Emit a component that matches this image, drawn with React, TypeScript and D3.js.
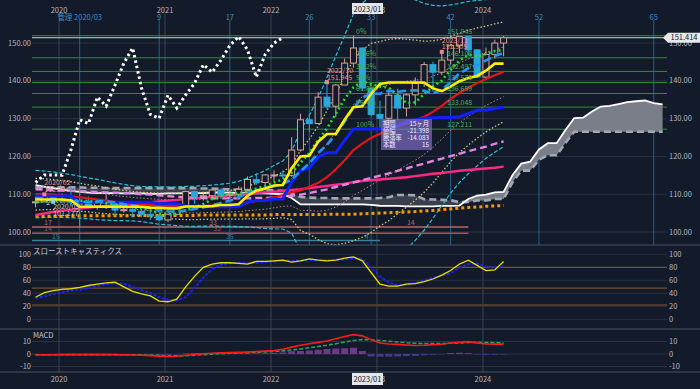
import React from 'react';
import * as d3 from 'd3';

// month index: 0 = 2020/01, first bar is 2019/10
const FIRST = -3;
const LAG = 25;
const YEAR_OFFSET = -0.34;
const CYCLE_BASE = 2;

const opens = [
  107.9, 108.0, 109.5, 108.7, 108.4, 107.9, 107.5, 106.9, 107.8, 107.9,
  105.8, 105.9, 105.5, 104.7, 104.3, 103.2, 104.7, 106.6, 110.7, 109.3,
  109.6, 111.1, 109.7, 110.0, 111.3, 113.9, 113.1, 115.1, 115.1, 115.0,
  121.7, 129.7, 128.7, 135.7, 133.3, 138.9, 144.7, 148.7, 138.1, 131.1,
  130.1, 136.2, 132.8, 136.3, 139.3, 144.3, 142.3, 145.5, 149.4, 151.7,
  148.2, 141.0, 147.0, 150.0,
];
const highs = [
  109.3, 109.7, 109.7, 110.3, 112.23, 111.7, 109.4, 108.1, 109.9, 107.9,
  107.0, 106.6, 106.1, 105.7, 104.8, 104.9, 106.7, 110.9, 110.9, 110.2,
  111.1, 111.7, 110.8, 112.1, 114.7, 115.5, 115.2, 116.3, 116.3, 125.1,
  131.3, 131.3, 137.0, 139.4, 139.1, 145.9, 151.945, 148.8, 138.2, 134.8,
  137.1, 137.9, 136.6, 140.9, 145.0, 145.1, 147.4, 149.7, 151.7, 151.905,
  148.3, 148.8, 150.9, 151.9,
];
const lows = [
  106.5, 107.9, 108.4, 107.6, 107.0, 101.18, 106.4, 105.9, 106.1, 104.2,
  105.1, 104.0, 104.0, 103.2, 102.9, 102.6, 104.4, 106.4, 107.5, 108.3,
  108.6, 109.1, 108.7, 109.1, 110.8, 112.5, 112.5, 113.5, 114.2, 114.6,
  121.3, 126.4, 128.6, 132.5, 130.4, 138.9, 143.5, 137.5, 130.6, 127.21,
  128.1, 129.6, 130.6, 133.5, 138.4, 137.2, 141.5, 144.4, 147.3, 146.7,
  140.9, 140.8, 145.9, 146.5,
];
const closes = [
  108.0, 109.5, 108.7, 108.4, 107.9, 107.5, 106.9, 107.8, 107.9, 105.8,
  105.9, 105.5, 104.7, 104.3, 103.2, 104.7, 106.6, 110.7, 109.3, 109.6,
  111.1, 109.7, 110.0, 111.3, 113.9, 113.1, 115.1, 115.1, 115.0, 121.7,
  129.7, 128.7, 135.7, 133.3, 138.9, 144.7, 148.7, 138.1, 131.1, 130.1,
  136.2, 132.8, 136.3, 139.3, 144.3, 142.3, 145.5, 149.4, 151.7, 148.2,
  141.0, 147.0, 150.0, 151.414,
];

// overlays (one value per month from 2019/10)
const tenkan = [
  108.6, 108.6, 108.6, 108.6, 108.4, 106.7, 106.7, 106.7, 106.7, 106.7,
  106.7, 106.7, 106.7, 106.45, 106.4, 106.25, 106.25, 106.75, 106.75, 106.75,
  106.85, 107.15, 107.15, 107.35, 109.55, 110.95, 111.5, 112.3, 112.45, 116.9,
  120.0, 120.2, 123.9, 125.95, 125.95, 129.7, 133.05, 133.25, 136.6, 139.15,
  139.55, 139.55, 139.55, 139.55, 139.55, 138.0, 137.3, 138.45, 139.9, 140.75,
  141.25, 142.7, 144.55, 144.55,
];
const kijun = [
  109.5, 109.5, 109.5, 109.5, 109.5, 107.9, 107.9, 107.9, 107.9, 107.9,
  107.9, 107.9, 107.9, 107.9, 107.5, 107.5, 107.5, 106.8, 106.8, 106.8,
  106.7, 106.7, 106.7, 106.7, 107.95, 108.35, 108.35, 108.75, 108.75, 113.15,
  116.25, 116.95, 119.8, 121.0, 121.0, 124.25, 127.25, 127.25, 127.25, 127.25,
  127.25, 128.15, 129.15, 129.7, 130.1, 130.25, 130.3, 130.3, 130.5, 131.35,
  132.2, 132.2, 132.7, 133.05,
];
const ma6 = [
  107.9, 108.1, 108.2, 108.2, 108.4, 108.3, 108.2, 107.9, 107.7, 107.3,
  107.0, 106.6, 106.3, 105.7, 104.9, 104.7, 104.8, 105.7, 106.5, 107.4,
  108.7, 109.5, 110.1, 110.2, 110.9, 111.5, 112.2, 113.1, 113.9, 115.7,
  118.3, 120.9, 124.3, 127.4, 131.3, 135.2, 138.3, 139.9, 139.1, 138.6,
  138.2, 136.2, 134.1, 134.3, 136.5, 138.5, 140.1, 142.9, 145.4, 146.9,
  146.4, 147.1, 147.9, 148.2,
];
const ma9 = [
  109.0, 108.8, 108.5, 108.2, 108.2, 108.1, 107.9, 108.1, 108.1, 107.8,
  107.4, 107.1, 106.7, 106.3, 105.8, 105.5, 105.4, 105.7, 106.1, 106.5,
  107.1, 107.7, 108.3, 109.2, 110.3, 111.0, 111.5, 112.1, 112.7, 113.9,
  116.1, 118.2, 120.9, 123.1, 125.9, 129.2, 132.9, 135.5, 136.6, 136.6,
  137.4, 137.1, 137.4, 137.5, 137.4, 136.7, 137.6, 139.6, 142.0, 143.3,
  144.2, 145.4, 146.6, 147.4,
];
const bbMid = [
  110.0, 110.0, 109.9, 109.7, 109.5, 109.2, 108.9, 108.6, 108.3, 108.0,
  107.8, 107.6, 107.4, 107.2, 107.0, 106.9, 106.8, 106.8, 106.8, 106.9,
  107.0, 107.1, 107.2, 107.4, 107.8, 108.2, 108.6, 109.2, 109.8, 110.5,
  111.0, 112.0, 113.0, 114.5, 116.6, 119.0, 121.7, 123.4, 124.9, 126.0,
  127.0, 128.0, 128.8, 129.6, 130.5, 131.8, 133.4, 135.2, 136.8, 138.2,
  139.4, 140.5, 141.5, 142.4,
];
const bbSd = [
  2.1, 2.05, 2.0, 1.95, 1.9, 1.85, 1.8, 1.78, 1.72, 1.66,
  1.6, 1.55, 1.55, 1.6, 1.65, 1.67, 1.7, 1.75, 1.77, 1.78,
  1.8, 1.85, 1.9, 2.0, 2.15, 2.35, 2.55, 2.8, 3.0, 3.6,
  5.3, 6.3, 7.5, 8.8, 10.0, 11.0, 12.0, 12.4, 12.5, 12.2,
  12.0, 11.6, 11.1, 10.6, 10.0, 9.4, 8.8, 8.3, 7.9, 7.6,
  7.3, 7.0, 6.8, 6.6,
];
const maLong = [
  104.5, 104.9, 105.3, 105.6, 105.9, 106.2, 106.5, 106.7, 106.9, 107.1,
  107.3, 107.5, 107.7, 107.9, 108.1, 108.3, 108.5, 108.7, 108.9, 109.1,
  109.3, 109.5, 109.7, 109.9, 110.1, 110.3, 110.5, 110.7, 110.9, 111.1,
  111.3, 111.6, 111.9, 112.2, 112.5, 112.8, 113.2, 113.5, 113.7, 113.9,
  114.1, 114.3, 114.5, 114.8, 115.1, 115.4, 115.6, 115.9, 116.2, 116.4,
  116.6, 116.8, 117.0, 117.3,
];
const maMid = [
  111.3, 111.2, 111.1, 111.0, 110.9, 110.8, 110.7, 110.6, 110.5, 110.4,
  110.3, 110.2, 110.0, 109.9, 109.7, 109.5, 109.3, 109.2, 109.1, 109.0,
  108.9, 108.9, 108.9, 108.9, 108.9, 109.0, 109.0, 109.1, 109.3, 109.6,
  109.9, 110.3, 110.8, 111.3, 111.9, 112.5, 113.1, 113.7, 114.3, 114.9,
  115.5, 116.2, 116.8, 117.5, 118.1, 118.8, 119.4, 120.1, 120.7, 121.4,
  122.0, 122.6, 123.3, 124.0,
];
const maSlow = [
  104.2, 104.2, 104.2, 104.2, 104.3, 104.3, 104.3, 104.3, 104.3, 104.3,
  104.3, 104.3, 104.4, 104.4, 104.4, 104.4, 104.4, 104.4, 104.4, 104.5,
  104.5, 104.5, 104.5, 104.5, 104.5, 104.5, 104.5, 104.6, 104.6, 104.6,
  104.6, 104.6, 104.6, 104.7, 104.7, 104.7, 104.7, 104.8, 104.9, 105.0,
  105.1, 105.2, 105.3, 105.4, 105.6, 105.7, 105.9, 106.1, 106.3, 106.5,
  106.6, 106.8, 106.9, 107.0,
];
// cloud spans, 2019/10 .. 2025/09 (already shifted forward)
const spanA = [
  112.4, 112.0, 111.6, 111.2, 110.9, 110.6, 110.4, 110.3,
  110.3, 110.3, 110.2, 110.2, 110.2, 110.1, 110.1, 110.2, 110.2, 110.3,
  110.3, 110.3, 110.4, 110.4, 110.4, 110.3, 110.3, 110.2, 110.2, 110.1,
  110.0, 109.0, 107.3, 107.3, 107.3, 107.3, 107.3, 107.3, 107.3, 107.3,
  107.2, 106.95, 106.9, 106.9, 106.8, 106.8, 106.8, 106.8, 106.9, 106.9, 107.0,
  108.75, 109.65, 109.9, 110.5, 110.6, 115.0, 118.1, 118.6, 121.85, 123.5,
  123.5, 127.0, 130.15, 130.25, 131.9, 133.2, 133.4, 133.85, 134.35, 134.6,
  134.8, 134.1, 133.8,
];
const spanB = [
  111.6, 111.7, 111.8, 111.8, 111.8, 111.8, 111.7, 111.7, 111.6, 111.6,
  111.6, 111.6, 111.6, 111.6, 111.6, 111.6, 111.6, 111.6, 111.6, 111.5,
  111.5, 111.4, 111.3,
  111.2, 111.1, 111.1, 111.1, 111.0, 110.9,
  110.2,
  109.3, 109.1, 109.0, 109.0, 108.9, 108.9, 108.9, 108.9, 108.9, 109.0, 109.2,
  109.8, 109.8, 109.7,
  108.7, 108.6, 108.5, 108.4,
  107.9, 107.95, 108.35, 108.35, 108.75, 108.75, 113.15, 116.25, 116.25, 119.1,
  120.3, 120.3, 123.55,
  126.55, 126.55, 126.55, 126.55, 126.55, 126.55, 126.55, 126.55, 126.55, 126.55, 126.55,
];

const stochK = [
  34, 41, 44, 46, 47, 49, 52, 54, 56, 57,
  50, 43, 39, 36, 28, 27, 31, 50, 66, 80,
  85, 87, 87, 86, 85, 89, 89, 90, 91, 88,
  90, 93, 91, 90, 91, 94, 96, 90, 72, 54,
  51, 51, 54, 55, 58, 62, 68, 75, 85, 91,
  83, 75, 76, 89,
];
const stochD = [
  33, 35, 39, 42, 44, 45, 48, 51, 54, 55,
  55, 50, 45, 40, 34, 30, 29, 34, 48, 64,
  77, 84, 86, 87, 86, 87, 88, 89, 90, 90,
  90, 91, 91, 91, 91, 92, 94, 93, 80, 66,
  57, 52, 54, 56, 60, 64, 67, 71, 79, 85,
  86, 81, 80, 81,
];
const macdLine = [
  -0.8, -0.7, -0.6, -0.5, -0.4, -0.5, -0.5, -0.5, -0.5, -0.6,
  -0.7, -0.8, -1.0, -1.3, -1.7, -2.0, -1.8, -1.0, -0.3, 0.2,
  0.6, 0.9, 1.1, 1.3, 1.6, 1.9, 2.3, 2.8, 3.8, 5.5,
  7.0, 8.2, 9.3, 10.4, 12.2, 14.0, 15.5, 14.5, 11.5, 8.8,
  8.0, 7.7, 7.2, 6.8, 7.0, 7.4, 7.8, 8.8, 9.4, 9.9,
  8.9, 8.0, 7.9, 7.9,
];
const signalLine = [
  -0.6, -0.6, -0.6, -0.6, -0.5, -0.5, -0.5, -0.5, -0.5, -0.5,
  -0.6, -0.6, -0.7, -0.9, -1.1, -1.4, -1.5, -1.4, -1.0, -0.5,
  -0.1, 0.3, 0.6, 0.9, 1.1, 1.4, 1.7, 2.0, 2.5, 3.2,
  4.0, 5.0, 6.0, 7.0, 8.2, 9.5, 10.8, 11.5, 11.4, 10.8,
  10.2, 9.6, 9.0, 8.6, 8.4, 8.3, 8.4, 8.6, 8.9, 9.2,
  9.3, 9.2, 9.0, 8.8,
];
const histogram = [
  -0.2, -0.1, 0, 0.1, 0.1, 0, 0, 0, 0, -0.1,
  -0.1, -0.2, -0.3, -0.4, -0.6, -0.6, -0.3, 0.4, 0.7, 0.7,
  0.7, 0.6, 0.5, 0.4, 0.5, 0.5, 0.6, 0.8, 1.2, 2.2,
  2.4, 2.8, 3.4, 4.0, 4.4, 4.6, 5.0, 2.4, -2.0, -2.1,
  -2.1, -2.0, -1.7, -1.5, -1.0, -0.6, -0.3, 0.8, 1.0, 0.7,
  -0.4, -0.7, -0.6, -0.5,
];

const years = ['2020', '2021', '2022', '2023', '2024'];
const cycleCounts = [0, 9, 17, 26, 33, 42, 52, 65];
const fibPcts = ['0%', '23.6%', '38.2%', '50%', '61.8%', '76.4%', '100%'];
const fibPrices = [151.945, 146.108, 142.497, 139.578, 136.659, 133.048, 127.211];
const priceTicks = [100, 110, 120, 130, 140, 150];
const stochTicks = [0, 20, 40, 60, 80, 100];
const stochLevels = [22, 48, 80];
const macdTicks = [-10, 0, 10];
const lastPrice = 151.414;
const crossLabel = '2023/01';

const highMarks = [
  { bar: 1, date: '2020/02', price: '112.226' },
  { bar: 33, date: '2022/10', price: '151.945' },
  { bar: 46, date: '2023/11', price: '151.905' },
];
const lowMarks = [{ bar: 2, date: '2020/03', price: '101.177' }];

// time-cycle count rows near the bottom of the price pane
const countRows = [
  { level: 101.3, end: 46, color: '#b06a6a', labels: ['17', '33', '14'], at: [-1.6, 17.1, 39.5] },
  { level: 99.7, end: 46, color: '#a8505e', labels: ['14', '32', '1'], at: [-1.6, 17.6, 41] },
  { level: 97.75, end: 36, color: '#3b7fa3', labels: ['15', '35', '4'], at: [-0.7, 19, 34.5] },
];

const infoRows = [
  ['期間', '15ヶ月'],
  ['値幅', '-21.398'],
  ['騰落率', '-14.083'],
  ['本数', '15'],
];

const FONT = "'Noto Sans CJK JP', 'Noto Sans', sans-serif";
const BG = '#131a2a';
const AXIS = '#b4b7c0';

export default function App() {
  const x = d3.scaleLinear().domain([-3.4, 68.5]).range([32, 667]);
  const yP = d3.scaleLinear().domain([96.56, 161.4]).range([245, 0]);
  const yS = d3.scaleLinear().domain([-14.9, 114.3]).range([329, 245]);
  const yM = d3.scaleLinear().domain([-14.4, 20]).range([372, 329]);

  const path = (y, vals, start = FIRST) =>
    d3.line<number>().x((_, i) => x(start + i)).y((v) => y(v))(vals) || '';

  const band = (k) => bbMid.map((m, i) => m + k * bbSd[i]);

  const cloudTop = spanA.map((a, i) => Math.max(a, spanB[i]));
  const cloudArea = (lower) =>
    d3.area<number>()
      .x((_, i) => x(FIRST + i))
      .y0((_, i) => yP(lower[i]))
      .y1((v) => yP(v))(cloudTop) || '';

  const chikou = closes.slice(LAG);
  const bodyW = 6;

  const yearX = (k) => x(12 * k + YEAR_OFFSET);

  return (
    <svg
      width={700}
      height={389}
      style={{ position: 'absolute', left: 0, top: 0, display: 'block' }}
      fontFamily={FONT}
    >
      <defs>
        <clipPath id="clipMain"><rect x={32} y={0} width={635} height={245} /></clipPath>
        <clipPath id="clipStoch"><rect x={32} y={245} width={635} height={84} /></clipPath>
        <clipPath id="clipMacd"><rect x={32} y={329} width={635} height={43} /></clipPath>
      </defs>
      <rect width={700} height={389} fill={BG} />

      {/* grid */}
      {priceTicks.map((v) => (
        <line key={'pg' + v} x1={32} x2={667} y1={yP(v)} y2={yP(v)} stroke="#2a3142" />
      ))}
      {stochTicks.map((v) => (
        <line key={'sg' + v} x1={32} x2={667} y1={yS(v)} y2={yS(v)} stroke="#2a3142" />
      ))}
      {macdTicks.map((v) => (
        <line key={'mg' + v} x1={32} x2={667} y1={yM(v)} y2={yM(v)} stroke="#2a3142" />
      ))}
      {stochLevels.map((v) => (
        <line key={'sl' + v} x1={32} x2={667} y1={yS(v)} y2={yS(v)} stroke="#8a5a2e" />
      ))}

      {years.map((yr, k) => (
        <line key={'yl' + yr} x1={yearX(k)} x2={yearX(k)} y1={14} y2={372} stroke="#3b4254" />
      ))}
      {cycleCounts.map((c) => (
        <line key={'cl' + c} x1={x(CYCLE_BASE + c)} x2={x(CYCLE_BASE + c)} y1={20} y2={245} stroke="#23628c" />
      ))}

      {/* fibonacci + last price */}
      {fibPrices.map((p) => (
        <line key={'fl' + p} x1={32} x2={667} y1={yP(p)} y2={yP(p)} stroke="#338a3a" />
      ))}
      <line x1={32} x2={667} y1={yP(lastPrice)} y2={yP(lastPrice)} stroke="#cfcfcf" />

      <g clipPath="url(#clipMain)">
        {/* cloud */}
        <path d={cloudArea(spanB)} fill="#7a7e89" />
        <path d={cloudArea(spanA)} fill="#3a3f4d" />
        <path d={path(yP, spanB)} fill="none" stroke="#a3a7b0" strokeWidth={2.6} strokeDasharray="7 4" />
        <path d={path(yP, spanA)} fill="none" stroke="#ffffff" strokeWidth={1.8} />

        {/* cycle count rows */}
        {countRows.map((r) => (
          <g key={'cr' + r.level}>
            <line x1={32} x2={x(r.end)} y1={yP(r.level)} y2={yP(r.level)} stroke={r.color} strokeWidth={1.5} />
            {r.labels.map((t, j) => (
              <text key={j} x={x(r.at[j])} y={yP(r.level) - 2} fontSize={7} fill={r.color} textAnchor="middle">
                {t}
              </text>
            ))}
          </g>
        ))}

        {/* bollinger style bands */}
        {[3, -3].map((k) => (
          <path key={'b3' + k} d={path(yP, band(k))} fill="none" stroke="#2bc0d2" strokeWidth={1.2} strokeDasharray="4 2" />
        ))}
        {[2, -2].map((k) => (
          <path key={'b2' + k} d={path(yP, band(k))} fill="none" stroke="#d2c677" strokeWidth={1.3} strokeDasharray="1.5 2" />
        ))}
        {[1, -1].map((k) => (
          <path key={'b1' + k} d={path(yP, band(k))} fill="none" stroke="#b98c7c" strokeWidth={1} strokeDasharray="1.5 2" />
        ))}

        {/* long averages */}
        <path d={path(yP, maSlow)} fill="none" stroke="#ff9800" strokeWidth={3} strokeDasharray="3 3" />
        <path d={path(yP, maLong)} fill="none" stroke="#ff2a85" strokeWidth={2.4} />
        <path d={path(yP, maMid)} fill="none" stroke="#e383e6" strokeWidth={2.4} strokeDasharray="7 4" />

        {/* candles */}
        {opens.map((o, i) => {
          const c = closes[i];
          const up = c >= o;
          const cx = x(FIRST + i);
          const col = up ? '#d3a39b' : '#2aa8da';
          const top = yP(Math.max(o, c));
          const h = Math.max(1, yP(Math.min(o, c)) - top);
          return (
            <g key={'k' + i}>
              <line x1={cx} x2={cx} y1={yP(highs[i])} y2={yP(lows[i])} stroke={col} strokeWidth={1} />
              <rect
                x={cx - bodyW / 2}
                y={top}
                width={bodyW}
                height={h}
                fill={up ? BG : col}
                stroke={col}
                strokeWidth={1}
              />
            </g>
          );
        })}

        <path d={path(yP, bbMid)} fill="none" stroke="#e8141c" strokeWidth={2.2} />
        <path d={path(yP, kijun)} fill="none" stroke="#1020ff" strokeWidth={3} />
        <path d={path(yP, ma6)} fill="none" stroke="#22e02a" strokeWidth={2.6} strokeDasharray="2 3" />
        <path d={path(yP, ma9)} fill="none" stroke="#2196f3" strokeWidth={2.6} strokeDasharray="8 4" />
        <path d={path(yP, tenkan)} fill="none" stroke="#ffee00" strokeWidth={2.6} />

        {/* lagging span */}
        <path d={path(yP, chikou)} fill="none" stroke="#ffffff" strokeWidth={3} strokeDasharray="2.5 3" />

        {/* high / low markers */}
        {highMarks.map((m) => {
          const mx = x(FIRST + m.bar);
          const my = yP(highs[m.bar]) - 1;
          return (
            <g key={'hm' + m.bar}>
              <rect x={mx - 2} y={my - 2} width={4} height={4} fill="#f0857c" />
              <text x={mx} y={my - 9} fontSize={7} fill="#e9968a">{m.date}</text>
              <text x={mx} y={my - 2.5} fontSize={7} fill="#e9968a">{m.price}</text>
            </g>
          );
        })}
        {lowMarks.map((m) => {
          const mx = x(FIRST + m.bar);
          const my = yP(lows[m.bar]) + 1.5;
          return (
            <g key={'lm' + m.bar}>
              <rect x={mx - 2} y={my - 2} width={4} height={4} fill="#7fd6f5" />
              <text x={mx - 5} y={my + 3} fontSize={7} fill="#d0d2da" textAnchor="middle">2</text>
              <text x={mx} y={my + 7} fontSize={7} fill="#c9ccd6">{m.date}</text>
              <text x={mx} y={my + 14.5} fontSize={7} fill="#c9ccd6">{m.price}</text>
            </g>
          );
        })}

        {/* fib labels */}
        {fibPrices.map((p, i) => (
          <g key={'ft' + p}>
            <text x={356} y={yP(p) - 2} fontSize={7} fill="#4fae55">{fibPcts[i]}</text>
            <text x={447} y={yP(p) - 2} fontSize={7} fill="#4fae55">{p.toFixed(3)}</text>
          </g>
        ))}
      </g>

      {/* info box */}
      <rect x={381} y={119} width={51} height={31} fill="#8a78d8" fillOpacity={0.62} />
      {infoRows.map((r, i) => (
        <g key={'ir' + i}>
          <text x={383} y={125.5 + i * 7} fontSize={6.3} fill="#f0eefc">{r[0]}</text>
          <text x={429} y={125.5 + i * 7} fontSize={6.3} fill="#f0eefc" textAnchor="end">{r[1]}</text>
        </g>
      ))}

      {/* stochastic */}
      <g clipPath="url(#clipStoch)">
        <path d={path(yS, stochD)} fill="none" stroke="#1a22ff" strokeWidth={1.9} strokeDasharray="3 1.5" />
        <path d={path(yS, stochK)} fill="none" stroke="#e8e000" strokeWidth={1.3} />
      </g>

      {/* macd */}
      <g clipPath="url(#clipMacd)">
        {histogram.map((v, i) => (
          <rect
            key={'h' + i}
            x={x(FIRST + i) - 3.5}
            y={Math.min(yM(v), yM(0))}
            width={7}
            height={Math.abs(yM(v) - yM(0))}
            fill={v >= 0 ? '#6d3a8a' : '#47398a'}
          />
        ))}
        <path d={path(yM, signalLine)} fill="none" stroke="#2f9e62" strokeWidth={1.6} strokeDasharray="4 2" />
        <path d={path(yM, macdLine)} fill="none" stroke="#ff1a1a" strokeWidth={1.6} />
      </g>

      {/* panel separators */}
      {[245, 329, 372].map((yy) => (
        <line key={'sep' + yy} x1={0} x2={700} y1={yy} y2={yy} stroke="#4d5260" />
      ))}

      {/* axis labels */}
      {priceTicks.map((v) => (
        <g key={'pl' + v}>
          <text x={31} y={yP(v)} dy="0.35em" fontSize={7.5} fill={AXIS} textAnchor="end">{v.toFixed(2)}</text>
          <text x={669} y={yP(v)} dy="0.35em" fontSize={7.5} fill={AXIS}>{v.toFixed(2)}</text>
        </g>
      ))}
      {stochTicks.map((v) => (
        <g key={'sl' + v}>
          <text x={31} y={yS(v)} dy="0.35em" fontSize={7.5} fill={AXIS} textAnchor="end">{v}</text>
          <text x={669} y={yS(v)} dy="0.35em" fontSize={7.5} fill={AXIS}>{v}</text>
        </g>
      ))}
      {macdTicks.map((v) => (
        <g key={'ml' + v}>
          <text x={31} y={yM(v)} dy="0.35em" fontSize={7.5} fill={AXIS} textAnchor="end">{v}</text>
          <text x={669} y={yM(v)} dy="0.35em" fontSize={7.5} fill={AXIS}>{v}</text>
        </g>
      ))}
      <text x={33} y={254} fontSize={7.5} fill="#c8cad2">スローストキャスティクス</text>
      <text x={33} y={338} fontSize={7.5} fill="#c8cad2">MACD</text>

      {/* time labels */}
      {years.map((yr, k) => (
        <g key={'yt' + yr}>
          <text x={yearX(k)} y={13} fontSize={7.5} fill={AXIS} textAnchor="middle">{yr}</text>
          <text x={yearX(k)} y={382} fontSize={7.5} fill={AXIS} textAnchor="middle">{yr}</text>
        </g>
      ))}
      {cycleCounts.map((c) => (
        <text key={'ct' + c} x={x(CYCLE_BASE + c)} y={20} fontSize={7.5} fill="#3b8fd0" textAnchor="middle">
          {c === 0 ? '管理 2020/03' : c}
        </text>
      ))}

      {/* crosshair date tags */}
      <rect x={352} y={3} width={31} height={11} fill="#e4e6ec" />
      <text x={367.5} y={11.5} fontSize={7.5} fill="#131722" textAnchor="middle">{crossLabel}</text>
      <rect x={352} y={373} width={31} height={12} fill="#e4e6ec" />
      <text x={367.5} y={382} fontSize={7.5} fill="#131722" textAnchor="middle">{crossLabel}</text>

      {/* last price tag */}
      <path
        d={`M663,${yP(lastPrice)} L668,${yP(lastPrice) - 5} L700,${yP(lastPrice) - 5} L700,${yP(lastPrice) + 5} L668,${yP(lastPrice) + 5} Z`}
        fill="#e8e8ea"
      />
      <text x={684} y={yP(lastPrice)} dy="0.35em" fontSize={7.5} fill="#131722" textAnchor="middle">
        {lastPrice.toFixed(3)}
      </text>
    </svg>
  );
}
